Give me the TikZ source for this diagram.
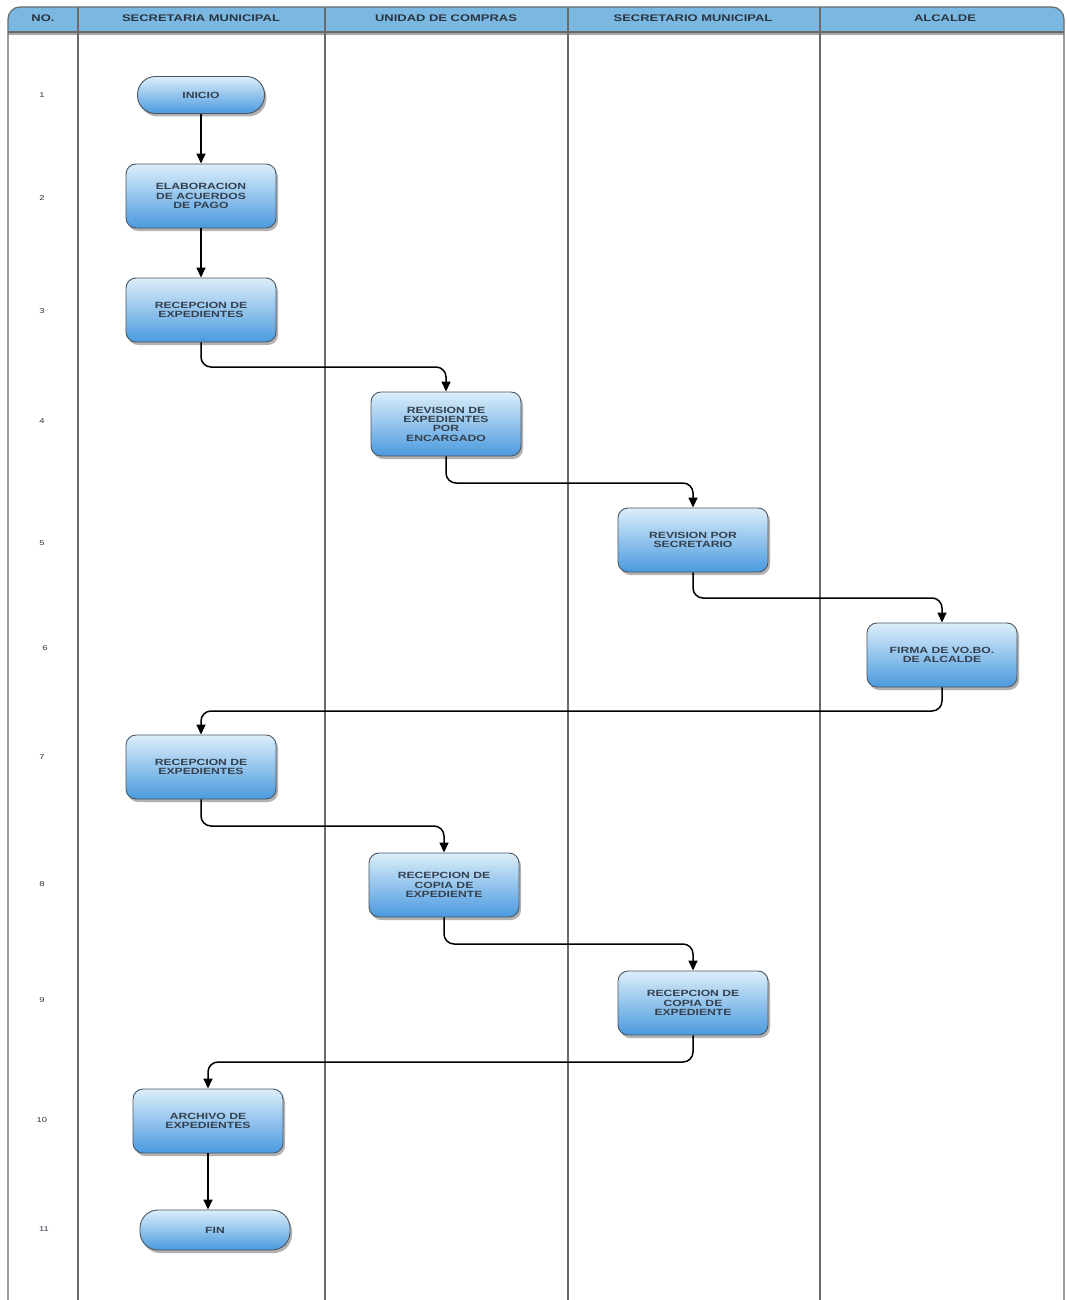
\documentclass[tikz,border=0pt]{standalone}
\usepackage{fontspec}
\setmainfont{Liberation Sans}[FakeStretch=1.35]
\usetikzlibrary{arrows.meta,shadows}
\definecolor{hdrblue}{HTML}{7AB8E2}
\definecolor{topblue}{HTML}{DCEEFA}
\definecolor{botblue}{HTML}{4A9ADF}
\definecolor{edgegray}{HTML}{4A5560}
\definecolor{txtcol}{HTML}{2A3440}
\definecolor{ntxtcol}{HTML}{34404E}
\definecolor{framegray}{HTML}{6A6A6A}
\tikzset{
  stepbox/.style={rectangle, rounded corners=10pt, draw=edgegray, line width=0.9pt,
    top color=topblue, bottom color=botblue, minimum width=150pt, minimum height=64pt,
    align=center, text=ntxtcol, font=\bfseries\fontsize{9}{9.3}\selectfont,
    drop shadow={shadow xshift=2pt, shadow yshift=-3pt, fill=black, opacity=0.3}},
  termbox/.style={stepbox, rounded corners=18pt, minimum height=37pt},
  conn/.style={black, line width=1.5pt, rounded corners=10pt, -{Triangle[length=10pt,width=9pt]}},
  hdr/.style={font=\bfseries\fontsize{9.6}{10}\selectfont, text=txtcol},
  rownum/.style={font=\fontsize{7}{8}\selectfont, text=txtcol}
}
\begin{document}
\begin{tikzpicture}[x=1pt,y=-1pt]
\useasboundingbox (0,0) rectangle (1066,1300);
% header band
\fill[hdrblue, drop shadow={shadow xshift=0pt, shadow yshift=-3pt, fill=black, opacity=0.35}]
  (8,32) [rounded corners=12pt] -- (8,7) -- (1064,7) [sharp corners] -- (1064,32) -- cycle;
\draw[framegray, line width=1.2pt] (8,32) -- (1064,32);
% frame and lane dividers
\draw[framegray, line width=1.2pt, rounded corners=12pt] (8,1300) -- (8,7) -- (1064,7) -- (1064,1300);
\foreach \xx in {78,325,568,820} \draw[framegray, line width=1.2pt] (\xx,7) -- (\xx,1300);
% header text
\node[hdr] (h0) at (43,18) {NO.};
\node[hdr] (h1) at (201,18) {SECRETARIA MUNICIPAL};
\node[hdr] (h2) at (446,18) {UNIDAD DE COMPRAS};
\node[hdr] (h3) at (693,18) {SECRETARIO MUNICIPAL};
\node[hdr] (h4) at (945,18) {ALCALDE};
% row numbers
\node[rownum] (r1) at (42,95) {1};
\node[rownum] (r2) at (42,198) {2};
\node[rownum] (r3) at (42,311) {3};
\node[rownum] (r4) at (42,421) {4};
\node[rownum] (r5) at (42,543) {5};
\node[rownum] (r6) at (45,648) {6};
\node[rownum] (r7) at (42,757) {7};
\node[rownum] (r8) at (42,884) {8};
\node[rownum] (r9) at (42,1000) {9};
\node[rownum] (r10) at (42,1120) {10};
\node[rownum] (r11) at (44,1229) {11};
% nodes
\node[termbox, minimum width=127pt] (n1) at (201,95) {INICIO};
\node[stepbox] (n2) at (201,196) {ELABORACION\\DE ACUERDOS\\DE PAGO};
\node[stepbox] (n3) at (201,310) {RECEPCION DE\\EXPEDIENTES};
\node[stepbox] (n4) at (446,424) {REVISION DE\\EXPEDIENTES\\POR\\ENCARGADO};
\node[stepbox] (n5) at (693,540) {REVISION POR\\SECRETARIO};
\node[stepbox] (n6) at (942,655) {FIRMA DE VO.BO.\\DE ALCALDE};
\node[stepbox] (n7) at (201,767) {RECEPCION DE\\EXPEDIENTES};
\node[stepbox] (n8) at (444,885) {RECEPCION DE\\COPIA DE\\EXPEDIENTE};
\node[stepbox] (n9) at (693,1003) {RECEPCION DE\\COPIA DE\\EXPEDIENTE};
\node[stepbox] (n10) at (208,1121) {ARCHIVO DE\\EXPEDIENTES};
\node[termbox, minimum width=150pt, minimum height=40pt] (n11) at (215,1230) {FIN};
% connector levels
\coordinate (y34) at (0,367);
\coordinate (y45) at (0,483);
\coordinate (y56) at (0,598);
\coordinate (y67) at (0,711);
\coordinate (y78) at (0,826);
\coordinate (y89) at (0,944);
\coordinate (y910) at (0,1062);
% connectors
\draw[conn] (n1) -- (n2);
\draw[conn] (n2) -- (n3);
\draw[conn] (n3.south) -- (n3.south |- y34) -| (n4.north);
\draw[conn] (n4.south) -- (n4.south |- y45) -| (n5.north);
\draw[conn] (n5.south) -- (n5.south |- y56) -| (n6.north);
\draw[conn] (n6.south) -- (n6.south |- y67) -| (n7.north);
\draw[conn] (n7.south) -- (n7.south |- y78) -| (n8.north);
\draw[conn] (n8.south) -- (n8.south |- y89) -| (n9.north);
\draw[conn] (n9.south) -- (n9.south |- y910) -| (n10.north);
\draw[conn] (n10.south) -- (n10.south |- n11.north);
\end{tikzpicture}
\end{document}
